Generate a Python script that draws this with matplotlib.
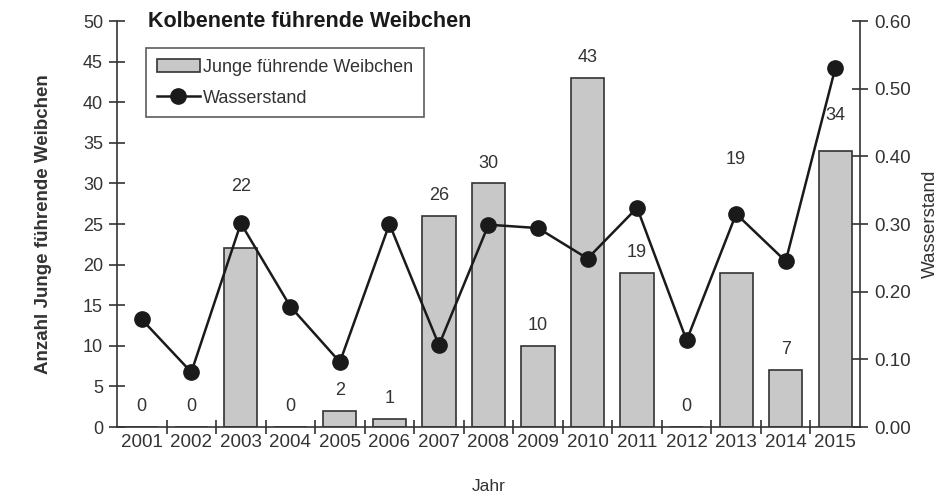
import matplotlib.pyplot as plt
import numpy as np

plt.rcParams['font.family'] = ['Liberation Sans', 'DejaVu Sans']

# data
jahre = ["2001", "2002", "2003", "2004", "2005", "2006", "2007", "2008",
         "2009", "2010", "2011", "2012", "2013", "2014", "2015"]
junge = [0, 0, 22, 0, 2, 1, 26, 30, 10, 43, 19, 0, 19, 7, 34]
wasserstand = [0.159, 0.081, 0.301, 0.178, 0.096, 0.300, 0.121, 0.299,
               0.294, 0.249, 0.324, 0.128, 0.315, 0.245, 0.530]

# some value labels sit higher than the bar top in the original
label_lift = {"2003": 29.6, "2013": 32.9, "2015": 38.4}

x = np.arange(len(jahre))

fig = plt.figure(figsize=(9.49, 4.97), dpi=100)
ax = fig.add_axes([0.1233, 0.1408, 0.7829, 0.8169])
ax2 = ax.twinx()

dark = "#333333"
txt = "#333333"

bars = ax.bar(x, junge, width=0.67, color="#c8c8c8", edgecolor=dark,
              linewidth=1.2, label="Junge führende Weibchen", zorder=2)
line, = ax2.plot(x, wasserstand, color="#1a1a1a", linewidth=1.8, marker="o",
                 markersize=11, label="Wasserstand", zorder=3)

# value labels
for i, v in enumerate(junge):
    yy = label_lift.get(jahre[i], v + 2.5)
    ax.text(x[i], yy, str(v), ha="center", va="center", fontsize=13,
            color=txt, zorder=4)

ax.set_xlim(-0.5, len(jahre) - 0.5)
ax.set_ylim(0, 50)
ax2.set_ylim(0, 0.6)
ax.set_yticks(np.arange(0, 51, 5))
ax2.set_yticks(np.arange(0, 0.61, 0.1))
ax2.set_yticklabels([f"{t:.2f}" for t in np.arange(0, 0.61, 0.1)])

ax.set_xticks(x)
ax.set_xticklabels(jahre)
ax.set_xticks(np.arange(0.5, len(jahre) - 1, 1), minor=True)
ax.tick_params(axis="x", which="major", length=0, labelsize=13.5,
               labelcolor=txt, pad=5)
ax.tick_params(axis="x", which="minor", direction="inout", length=10,
               width=1.2, color=dark)
ax.tick_params(axis="y", direction="inout", length=12, width=1.2,
               color=dark, labelsize=13, labelcolor=txt, pad=4)
ax2.tick_params(axis="y", direction="inout", length=12, width=1.2,
                color=dark, labelsize=13.5, labelcolor=txt, pad=4)

for a in (ax, ax2):
    a.spines["top"].set_visible(False)
    for s in ("left", "right", "bottom"):
        a.spines[s].set_color(dark)
        a.spines[s].set_linewidth(1.2)
ax.spines["right"].set_visible(False)
ax2.spines["left"].set_visible(False)
ax2.spines["bottom"].set_visible(False)

ax.set_xlabel("Jahr", fontsize=12.5, color=txt, labelpad=20)
ax.set_ylabel("Anzahl Junge führende Weibchen", fontsize=13.5,
              fontweight="bold", color=txt, labelpad=22)
ax2.set_ylabel("Wasserstand", fontsize=13.5, color=txt, rotation=90,
               labelpad=8)

ax.text(0.042, 1.0, "Kolbenente führende Weibchen", transform=ax.transAxes,
        fontsize=15.5, fontweight="bold", color="#1a1a1a", ha="left",
        va="center")

leg = ax2.legend([bars, line], ["Junge führende Weibchen", "Wasserstand"],
                 loc="upper left", bbox_to_anchor=(0.039, 0.933),
                 fontsize=13, frameon=True, fancybox=False,
                 handlelength=2.4, handletextpad=0.15, borderpad=0.6,
                 labelspacing=0.75, borderaxespad=0)
leg.get_frame().set_edgecolor(dark)
leg.get_frame().set_linewidth(1.2)
for t in leg.get_texts():
    t.set_color(txt)

fig.savefig("out.png", dpi=100)
